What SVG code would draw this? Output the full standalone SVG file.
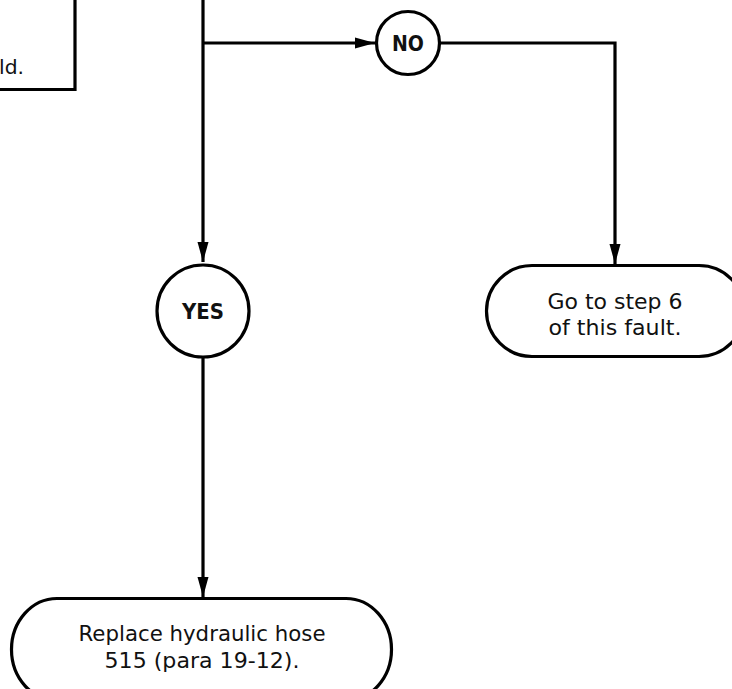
<svg xmlns="http://www.w3.org/2000/svg" width="732" height="689" viewBox="0 0 732 689">
<defs>
<style>
.ln{fill:none;stroke:#000;stroke-width:3.2}
.nd{fill:#fff;stroke:#000;stroke-width:3.2}
.tx{font-family:"DejaVu Sans","Liberation Sans",sans-serif;font-size:21.5px;fill:#111;text-anchor:middle}
.bd{font-weight:bold;font-size:20.5px}
</style>
<marker id="ah" markerWidth="20" markerHeight="12" refX="20" refY="6" orient="auto" markerUnits="userSpaceOnUse">
<path d="M0,0.5 L20,6 L0,11.5 Z" fill="#000"/>
</marker>
</defs>
<rect width="732" height="689" fill="#fff"/>
<g id="connectors">
<path class="ln" d="M203,0 V262" marker-end="url(#ah)"/>
<path class="ln" d="M203,43 H375" marker-end="url(#ah)"/>
<path class="ln" d="M440,43 H615 V264" marker-end="url(#ah)"/>
<path class="ln" d="M203,357 V597" marker-end="url(#ah)"/>
</g>
<g id="prev-box">
<path class="ln" d="M-5,89.5 H75 V-5"/>
<text class="tx" x="24" y="74" style="text-anchor:end;font-size:19px" textLength="25" lengthAdjust="spacingAndGlyphs">ld.</text>
</g>
<g id="no">
<circle class="nd" cx="408" cy="43" r="31.5"/>
<text class="tx bd" x="408" y="50.5" textLength="32" lengthAdjust="spacingAndGlyphs">NO</text>
</g>
<g id="yes">
<circle class="nd" cx="203" cy="311" r="46"/>
<text class="tx bd" x="203" y="318.5" textLength="42" lengthAdjust="spacingAndGlyphs">YES</text>
</g>
<g id="goto">
<path class="nd" d="M532,265.5 H699 A45.5,45.5 0 0 1 699,356.5 H532 A45.5,45.5 0 0 1 532,265.5 Z"/>
<text class="tx" x="615" y="309" textLength="135" lengthAdjust="spacingAndGlyphs">Go to step 6</text>
<text class="tx" x="615" y="335" textLength="133" lengthAdjust="spacingAndGlyphs">of this fault.</text>
</g>
<g id="replace">
<path class="nd" d="M57,598.5 H346 A45.5,51 0 0 1 346,700.5 H57 A45.5,51 0 0 1 57,598.5 Z"/>
<text class="tx" x="202" y="641" textLength="247" lengthAdjust="spacingAndGlyphs">Replace hydraulic hose</text>
<text class="tx" x="202" y="668" textLength="195" lengthAdjust="spacingAndGlyphs">515 (para 19-12).</text>
</g>
</svg>
